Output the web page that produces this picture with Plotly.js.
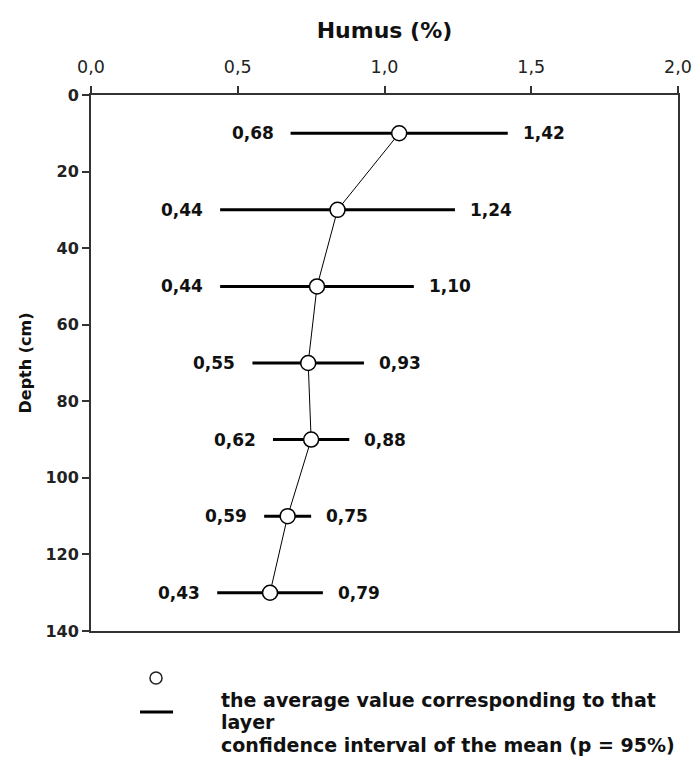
<!DOCTYPE html>
<html>
<head>
<meta charset="utf-8">
<script src="https://cdn.plot.ly/plotly-3.0.1.min.js"></script>
<style>
  html, body { margin: 0; padding: 0; background: #ffffff; }
  #chart { width: 692px; height: 767px; }
</style>
</head>
<body>
<div id="chart"></div>
<script>
// Data
const depth = [10, 30, 50, 70, 90, 110, 130];          // cm (layer mid-depth)
const meanHumus = [1.05, 0.84, 0.77, 0.74, 0.75, 0.67, 0.61];
const lowCI  = [0.68, 0.44, 0.44, 0.55, 0.62, 0.59, 0.43];
const highCI = [1.42, 1.24, 1.10, 0.93, 0.88, 0.75, 0.79];
const xTickVals = [0, 0.5, 1.0, 1.5, 2.0];
const yTickVals = [0, 20, 40, 60, 80, 100, 120, 140];
const legendLines = [
  "the average value corresponding to that",
  "layer",
  "confidence interval of the mean (p = 95%)"
];

const fmt = v => v.toFixed(2).replace('.', ',');
const FONT = "DejaVu Sans, Verdana, sans-serif";

const trace = {
  x: meanHumus,
  y: depth,
  type: 'scatter',
  mode: 'lines+markers',
  line: { color: '#000000', width: 1 },
  marker: { symbol: 'circle', size: 15, color: '#ffffff', line: { color: '#000000', width: 1.5 } },
  error_x: {
    type: 'data',
    symmetric: false,
    array: highCI.map((h, i) => h - meanHumus[i]),
    arrayminus: lowCI.map((l, i) => meanHumus[i] - l),
    color: '#000000',
    thickness: 3,
    width: 0
  },
  hoverinfo: 'x+y',
  showlegend: false,
  cliponaxis: false
};

const annotations = [];
depth.forEach((d, i) => {
  annotations.push({
    x: lowCI[i], y: d, xref: 'x', yref: 'y',
    text: fmt(lowCI[i]), showarrow: false,
    xanchor: 'right', yanchor: 'middle', xshift: -15,
    font: { family: FONT, size: 17, color: '#111111', weight: 'bold' }
  });
  annotations.push({
    x: highCI[i], y: d, xref: 'x', yref: 'y',
    text: fmt(highCI[i]), showarrow: false,
    xanchor: 'left', yanchor: 'middle', xshift: 13,
    font: { family: FONT, size: 17, color: '#111111', weight: 'bold' }
  });
});

const legendY = [-0.1287, -0.1698, -0.2127];
legendLines.forEach((t, i) => {
  annotations.push({
    x: 0.218, y: legendY[i], xref: 'paper', yref: 'paper',
    text: t, showarrow: false, xanchor: 'left', yanchor: 'middle',
    font: { family: FONT, size: 19, color: '#111111', weight: 'bold' }
  });
});

const layout = {
  width: 692,
  height: 767,
  margin: { l: 91, r: 14, t: 95, b: 136, pad: 0 },
  paper_bgcolor: '#ffffff',
  plot_bgcolor: '#ffffff',
  separators: ',.',
  showlegend: false,
  xaxis: {
    side: 'top',
    range: [0, 2],
    tickvals: xTickVals,
    tickformat: '.1f',
    ticks: 'outside',
    ticklen: 7,
    tickwidth: 2,
    tickcolor: '#333333',
    ticklabelstandoff: 6,
    ticklabeloverflow: 'allow',
    showline: true,
    linewidth: 2,
    linecolor: '#333333',
    mirror: true,
    showgrid: false,
    zeroline: false,
    tickfont: { family: FONT, size: 17.5, color: '#222222' },
    title: { text: 'Humus (%)', standoff: 12, font: { family: FONT, size: 22, color: '#111111', weight: 'bold' } }
  },
  yaxis: {
    range: [140, 0],
    tickvals: yTickVals,
    ticks: 'outside',
    ticklen: 7,
    tickwidth: 2,
    tickcolor: '#333333',
    showline: true,
    linewidth: 2,
    linecolor: '#333333',
    mirror: true,
    showgrid: false,
    zeroline: false,
    tickfont: { family: FONT, size: 16, color: '#222222', weight: 'bold' },
    title: { text: 'Depth (cm)', standoff: 10, font: { family: FONT, size: 16, color: '#111111', weight: 'bold' } }
  },
  shapes: [
    { type: 'circle', xref: 'paper', yref: 'paper',
      x0: 0.1005, x1: 0.121, y0: -0.0989, y1: -0.0765,
      line: { color: '#222222', width: 1.5 }, fillcolor: '#ffffff' },
    { type: 'line', xref: 'paper', yref: 'paper',
      x0: 0.0835, x1: 0.1397, y0: -0.151, y1: -0.151,
      line: { color: '#000000', width: 3 } }
  ],
  annotations: annotations
};

Plotly.newPlot('chart', [trace], layout, { displayModeBar: false, staticPlot: true });
</script>
</body>
</html>
